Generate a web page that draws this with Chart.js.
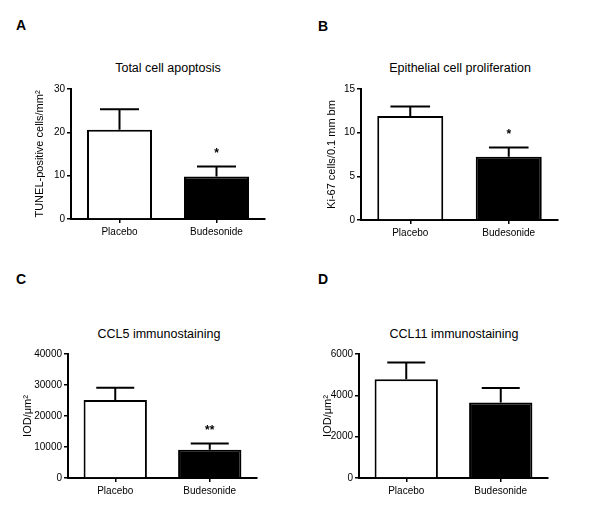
<!DOCTYPE html>
<html>
<head>
<meta charset="utf-8">
<script src="https://cdn.jsdelivr.net/npm/chart.js@4"></script>
<style>
  body { margin: 0; background: #fff; }
  #page { position: relative; width: 600px; height: 520px; background: #fff; font-family: Arial, "Liberation Sans", sans-serif; color: #000; }
  canvas { position: absolute; }
  .letter { position: absolute; font-weight: bold; font-size: 14px; line-height: 14px; }
  .title { position: absolute; width: 200px; text-align: center; font-size: 12.5px; line-height: 14px; }
</style>
</head>
<body>
<div id="page">
  <div class="letter" style="left:16px;top:18px">A</div>
  <div class="letter" style="left:318px;top:19px">B</div>
  <div class="letter" style="left:16px;top:272px">C</div>
  <div class="letter" style="left:318px;top:272px">D</div>
  <div class="title" style="left:68px;top:61px">Total cell apoptosis</div>
  <div class="title" style="left:360px;top:61px">Epithelial cell proliferation</div>
  <div class="title" style="left:59px;top:327px">CCL5 immunostaining</div>
  <div class="title" style="left:354px;top:327px">CCL11 immunostaining</div>
  <canvas id="chartA" width="300" height="260" style="left:0;top:0"></canvas>
  <canvas id="chartB" width="300" height="260" style="left:300px;top:0"></canvas>
  <canvas id="chartC" width="300" height="260" style="left:0;top:260px"></canvas>
  <canvas id="chartD" width="300" height="260" style="left:300px;top:260px"></canvas>
</div>
<script>
const categories = ["Placebo", "Budesonide"];

const apoptosisMean = [20.6, 9.8];
const apoptosisErr = [4.7, 2.3];
const apoptosisMarks = ["", "*"];

const prolifMean = [11.9, 7.25];
const prolifErr = [1.1, 1.05];
const prolifMarks = ["", "*"];

const ccl5Mean = [25200, 9100];
const ccl5Err = [3900, 2000];
const ccl5Marks = ["", "**"];

const ccl11Mean = [4780, 3650];
const ccl11Err = [810, 710];
const ccl11Marks = ["", ""];

const FONT = 'Arial, "Liberation Sans", sans-serif';

// draws the upward error bar (with cap) and the significance stars
const errorBarPlugin = {
  id: "errorBars",
  afterDatasetsDraw(chart, args, opts) {
    const ctx = chart.ctx;
    const yScale = chart.scales.y;
    const meta = chart.getDatasetMeta(0);
    ctx.save();
    ctx.strokeStyle = "#000";
    ctx.fillStyle = "#000";
    ctx.lineWidth = 2;
    meta.data.forEach((bar, i) => {
      const top = yScale.getPixelForValue(opts.means[i] + opts.errors[i]);
      const half = bar.width * 0.3;
      ctx.beginPath();
      ctx.moveTo(bar.x, bar.y);
      ctx.lineTo(bar.x, top);
      ctx.moveTo(bar.x - half, top);
      ctx.lineTo(bar.x + half, top);
      ctx.stroke();
      if (opts.marks[i]) {
        ctx.font = "bold 12px " + FONT;
        ctx.textAlign = "center";
        ctx.textBaseline = "alphabetic";
        ctx.fillText(opts.marks[i], bar.x, top - 10);
      }
    });
    ctx.restore();
  }
};

function makePanel(id, means, errors, marks, yMax, yStep, yLabel, area) {
  const ctx = document.getElementById(id).getContext("2d");
  return new Chart(ctx, {
    type: "bar",
    data: {
      labels: categories,
      datasets: [
        {
          data: means,
          backgroundColor: ["#ffffff", "#000000"],
          borderColor: "#000000",
          borderWidth: 2,
          categoryPercentage: 1,
          barPercentage: 0.67,
        },
      ],
    },
    plugins: [errorBarPlugin],
    options: {
      responsive: false,
      animation: false,
      devicePixelRatio: 1,
      layout: {
        padding: { left: 0, top: area.top, right: 300 - area.right, bottom: 0 },
      },
      plugins: {
        legend: { display: false },
        tooltip: { enabled: false },
        errorBars: { means: means, errors: errors, marks: marks },
      },
      scales: {
        x: {
          afterFit: (scale) => { scale.height = 260 - area.bottom; },
          border: { color: "#000", width: 2 },
          grid: { drawOnChartArea: false, offset: false, color: "#000", lineWidth: 1.5, tickLength: 4 },
          ticks: { color: "#000", font: { family: FONT, size: 10 }, padding: 3, maxRotation: 0 },
        },
        y: {
          min: 0,
          max: yMax,
          afterFit: (scale) => { scale.width = area.left; },
          border: { color: "#000", width: 2 },
          grid: { drawOnChartArea: false, color: "#000", lineWidth: 1.5, tickLength: 4 },
          ticks: {
            stepSize: yStep,
            color: "#000",
            font: { family: FONT, size: 10 },
            padding: 2,
            callback: (v) => String(v),
          },
          title: {
            display: true,
            text: yLabel,
            color: "#000",
            font: { family: FONT, size: 11 },
            padding: { top: area.labelX - 6.6, bottom: 0 },
          },
        },
      },
    },
  });
}

makePanel("chartA", apoptosisMean, apoptosisErr, apoptosisMarks, 30, 10,
  "TUNEL-positive cells/mm\u00b2", { left: 71, right: 265, top: 89, bottom: 219, labelX: 40 });
makePanel("chartB", prolifMean, prolifErr, prolifMarks, 15, 5,
  "Ki-67 cells/0.1 mm bm", { left: 61, right: 258, top: 89, bottom: 220, labelX: 32 });
makePanel("chartC", ccl5Mean, ccl5Err, ccl5Marks, 40000, 10000,
  "IOD/\u03bcm\u00b2", { left: 68, right: 257, top: 94, bottom: 218, labelX: 28 });
makePanel("chartD", ccl11Mean, ccl11Err, ccl11Marks, 6000, 2000,
  "IOD/\u03bcm\u00b2", { left: 59, right: 248, top: 94, bottom: 218, labelX: 28 });
</script>
</body>
</html>
